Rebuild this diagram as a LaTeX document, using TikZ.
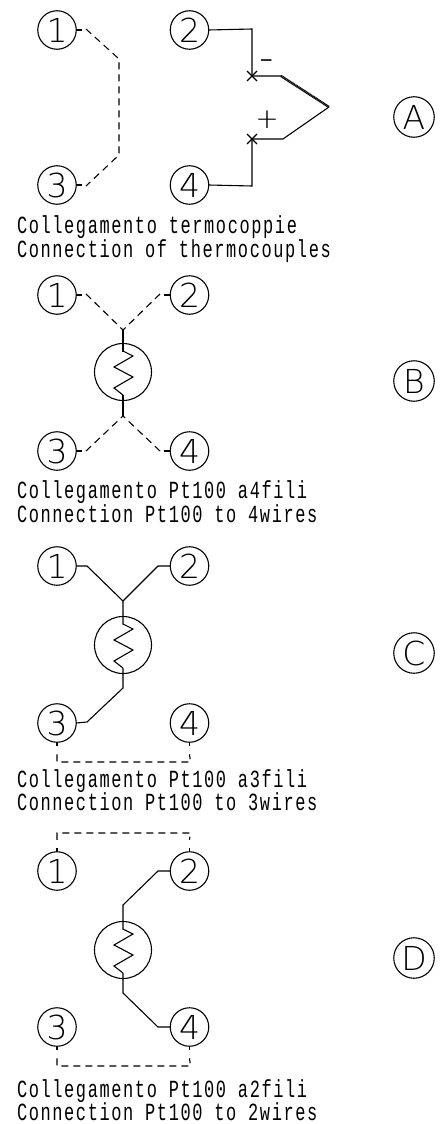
\documentclass[tikz,border=0pt]{standalone}
\usepackage{fontspec}
\setmainfont{DejaVu Sans}
\IfFontExistsTF{DejaVu Sans ExtraLight}{\newfontfamily\labfont{DejaVu Sans ExtraLight}}{%
\IfFontExistsTF{Open Sans Light}{\newfontfamily\labfont{Open Sans Light}}{%
\IfFontExistsTF{Lato Light}{\newfontfamily\labfont{Lato Light}}{%
\newfontfamily\labfont{Liberation Sans}}}}
\newfontfamily\capfont[LetterSpace=9.4]{Liberation Mono}
\usetikzlibrary{shapes.misc}
\newcommand{\zigzag}[1]{\draw[wire] ([shift={(0,-21)}]#1.center) -- ++(10,5) -- ++(-19,11) -- ++(19,10) -- ++(-19,11) -- ++(9,7);}
\tikzset{
  wire/.style={line width=1.1pt,line join=miter},
  dashwire/.style={line width=1.1pt,dash pattern=on 7pt off 5pt},
  term/.style={circle,draw,line width=1.1pt,minimum size=38.5pt,inner sep=0pt,outer sep=0pt,
    font=\labfont\fontsize{33}{33}\selectfont},
  secmark/.style={circle,draw,line width=1.1pt,minimum size=40.5pt,inner sep=0pt,outer sep=0pt,
    font=\labfont\fontsize{33}{33}\selectfont},
  rtd/.style={circle,draw,line width=1.1pt,minimum size=57pt,inner sep=0pt,outer sep=0pt},
  capt/.style={anchor=base west,inner sep=0pt,outer sep=0pt,yscale=1.45,transform shape,
    font=\capfont\fontsize{17}{17}\selectfont},
  tc/.style={cross out,draw,line width=1.1pt,minimum size=10pt,inner sep=0pt,outer sep=0pt},
  sign/.style={inner sep=0pt,outer sep=0pt,font=\labfont\fontsize{28}{28}\selectfont}
}
\begin{document}
\begin{tikzpicture}[x=1pt,y=-1pt]
\useasboundingbox (0,0) rectangle (445,1124);
% Section A
\node[term] (a1) at (57,30) {1};
\node[term] (a2) at (189.5,30) {2};
\node[term] (a3) at (57,185) {3};
\node[term] (a4) at (189.5,185) {4};
\node[secmark] (am) at (414,117) {A};
\coordinate (a1b) at (119,59);
\coordinate (a3b) at (119,155);
\draw[wire] (a1.east) -- ++(6,0);
\draw[wire] (a3.east) -- ++(6,0);
\draw[dashwire] (86,29) -- (a1b) -- (a3b) -- (86,186);
\node[tc] (xm) at (252,76) {};
\node[tc] (xp) at (252,139) {};
\coordinate (tm) at (281,76);
\coordinate (tp) at (283,139);
\coordinate (tip) at (329,107);
\draw[wire] (a2.east) -- (252,29) -- (xm.center) -- (tm);
\draw[wire] (a4.east) -- (252,186) -- (xp.center) -- (tp) -- (tip);
\draw[line width=2.4pt,dash pattern=on 1.2pt off .5pt] (tm) -- (tip);
\node[sign] (minus) at (267,66) {\fontsize{40}{40}\selectfont -};
\node[sign] (plus) at (267,120) {+};
\node[capt] (ac1) at (17,233) {Collegamento termocoppie};
\node[capt] (ac2) at (17,257) {Connection of thermocouples};
% Section B
\node[term] (b1) at (57,295) {1};
\node[term] (b2) at (189.5,295) {2};
\node[term] (b3) at (57,451) {3};
\node[term] (b4) at (189.5,451) {4};
\node[secmark] (bm) at (414,381) {B};
\node[rtd] (br) at (123,372) {};
\zigzag{br}
\coordinate (bt) at (123,330);
\coordinate (bb) at (123,416);
\draw[wire] (bt) -- ([yshift=-8pt]br.north);
\draw[wire] (bb) -- ([yshift=-23pt]br.center);
\draw[wire] (b1.east) -- ++(6,0);
\draw[wire] (b2.west) -- ++(-6,0);
\draw[wire] (b3.east) -- ++(6,0);
\draw[wire] (b4.west) -- ++(-6,0);
\draw[dashwire] (86,294) -- (bt);
\draw[dashwire] (160,294) -- (bt);
\draw[dashwire] (86,451) -- (bb);
\draw[dashwire] (160,451) -- (bb);
\node[capt] (bc1) at (17,498) {Collegamento Pt100 a4fili};
\node[capt] (bc2) at (17,522) {Connection Pt100 to 4wires};
% Section C
\node[term] (c1) at (57,566) {1};
\node[term] (c2) at (189.5,566) {2};
\node[term] (c3) at (57,723) {3};
\node[term] (c4) at (189.5,723) {4};
\node[secmark] (cm) at (414,653) {C};
\node[rtd] (cr) at (123,645) {};
\zigzag{cr}
\coordinate (ct) at (123,601);
\coordinate (cb) at (123,688);
\draw[wire] (c1.east) -- (87,566) -- (ct) -- ([yshift=-8pt]cr.north);
\draw[wire] (c2.west) -- (158,566) -- (ct);
\draw[wire] (c3.east) -- (87,722) -- (cb) -- ([yshift=-23pt]cr.center);
\draw[wire] (c3.south) -- ++(0,4);
\draw[wire] (c4.south) -- ++(0,4);
\draw[dashwire] ([yshift=-12pt]c3.south) |- (190.5,762) -- ([yshift=-12pt]c4.south);
\node[capt] (cc1) at (17,787) {Collegamento Pt100 a3fili};
\node[capt] (cc2) at (17,810) {Connection Pt100 to 3wires};
% Section D
\node[term] (d1) at (57,871) {1};
\node[term] (d2) at (189.5,871) {2};
\node[term] (d3) at (57,1027) {3};
\node[term] (d4) at (189.5,1027) {4};
\node[secmark] (dm) at (414,958) {D};
\node[rtd] (dr) at (123,950) {};
\zigzag{dr}
\draw[wire] (d2.west) -- (158,871) -- (123,905) -- ([yshift=-8pt]dr.north);
\draw[wire] (d4.west) -- (158,1027) -- (123,993) -- ([yshift=-23pt]dr.center);
\draw[wire] (d1.north) -- ++(0,-4);
\draw[wire] (d2.north) -- ++(0,-4);
\draw[dashwire] ([yshift=12pt]d1.north) |- (190.5,833) -- ([yshift=12pt]d2.north);
\draw[wire] (d3.south) -- ++(0,4);
\draw[wire] (d4.south) -- ++(0,4);
\draw[dashwire] ([yshift=-12pt]d3.south) |- (190.5,1066) -- ([yshift=-12pt]d4.south);
\node[capt] (dc1) at (17,1097) {Collegamento Pt100 a2fili};
\node[capt] (dc2) at (17,1120.5) {Connection Pt100 to 2wires};
\end{tikzpicture}
\end{document}
